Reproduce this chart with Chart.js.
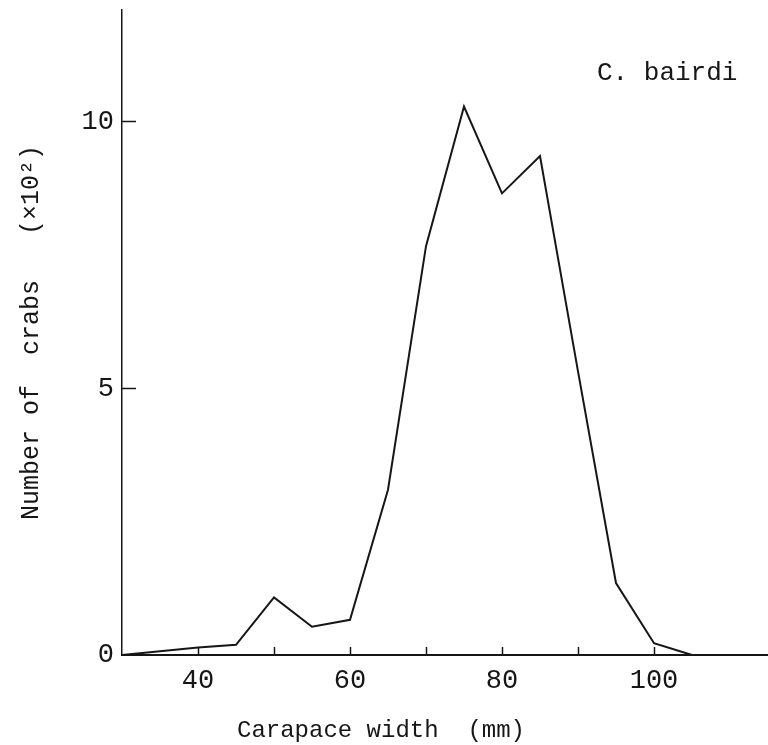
<!DOCTYPE html>
<html>
<head>
<meta charset="utf-8">
<title>C. bairdi carapace width</title>
<script src="https://cdn.jsdelivr.net/npm/chart.js@4/dist/chart.umd.min.js"></script>
<style>
  html, body { margin: 0; padding: 0; background: #fff; }
  #wrap { width: 768px; height: 745px; position: relative; }
</style>
</head>
<body>
<div id="wrap"><canvas id="sizeChart"></canvas></div>
<script>
// Carapace width classes (mm) and number of crabs (x10^2)
const widths = [30, 35, 40, 45, 50, 55, 60, 65, 70, 75, 80, 85, 90, 95, 100, 105];
const counts = [0, 0.07, 0.14, 0.19, 1.08, 0.53, 0.66, 3.1, 7.67, 10.29, 8.66, 9.36, 5.32, 1.35, 0.22, 0];

// Labelled ticks and tick marks on each axis
const xLabels = [40, 60, 80, 100];
const xMarks = [40, 50, 60, 70, 80, 90, 100];
const yLabels = [0, 5, 10];
const yMarks = [5, 10];

const ink = '#161616';
const mono = '"Liberation Mono", "Courier New", monospace';

// Species name and x axis caption, drawn on top of the chart
const captions = {
    id: 'captions',
    afterDraw(chart) {
        const ctx = chart.ctx;
        ctx.save();
        ctx.fillStyle = ink;
        ctx.textBaseline = 'alphabetic';
        ctx.font = '26px ' + mono;
        ctx.textAlign = 'left';
        ctx.fillText('C. bairdi', 597, 80);
        ctx.font = '24px ' + mono;
        ctx.textAlign = 'center';
        ctx.fillText('Carapace width  (mm)', 381, 737);
        ctx.restore();
    }
};

const points = widths.map((w, i) => ({ x: w, y: counts[i] }));

new Chart(document.getElementById('sizeChart').getContext('2d'), {
    type: 'line',
    data: {
        datasets: [{
            data: points,
            borderColor: ink,
            borderWidth: 2,
            pointRadius: 0,
            tension: 0,
            fill: false
        }]
    },
    options: {
        responsive: true,
        maintainAspectRatio: false,
        animation: false,
        layout: { padding: { top: 10, left: 0, right: 0, bottom: 0 } },
        plugins: {
            legend: { display: false },
            tooltip: { enabled: false }
        },
        scales: {
            x: {
                type: 'linear',
                min: 30,
                max: 115,
                // fixed height, and let the axis run to the right edge
                afterFit: s => {
                    s.height = 90;
                    s.paddingLeft = 0;
                    s.paddingRight = 0;
                },
                border: { display: true, color: ink, width: 2 },
                grid: {
                    drawOnChartArea: false,
                    drawTicks: true,
                    tickLength: -8,
                    tickWidth: 1.5,
                    color: c => xMarks.includes(c.tick && c.tick.value) ? ink : 'rgba(0,0,0,0)'
                },
                ticks: {
                    stepSize: 10,
                    autoSkip: false,
                    maxRotation: 0,
                    padding: 18,
                    color: ink,
                    font: { family: mono, size: 27 },
                    callback: v => xLabels.includes(v) ? String(v) : ''
                }
            },
            y: {
                min: 0,
                max: 12.1,
                afterFit: s => {
                    s.width = 122;
                    s.paddingTop = 0;
                    s.paddingBottom = 0;
                },
                border: { display: true, color: ink, width: 1.5 },
                grid: {
                    drawOnChartArea: false,
                    drawTicks: true,
                    tickLength: -14,
                    tickWidth: 1.5,
                    color: c => yMarks.includes(c.tick && c.tick.value) ? ink : 'rgba(0,0,0,0)'
                },
                ticks: {
                    stepSize: 5,
                    autoSkip: false,
                    padding: 22,
                    color: ink,
                    font: { family: mono, size: 27 },
                    callback: v => yLabels.includes(v) ? String(v) : ''
                },
                title: {
                    display: true,
                    text: 'Number of  crabs   (×10²)',
                    color: ink,
                    font: { family: mono, size: 25 },
                    padding: { top: 16, bottom: 0 }
                }
            }
        }
    },
    plugins: [captions]
});
</script>
</body>
</html>
